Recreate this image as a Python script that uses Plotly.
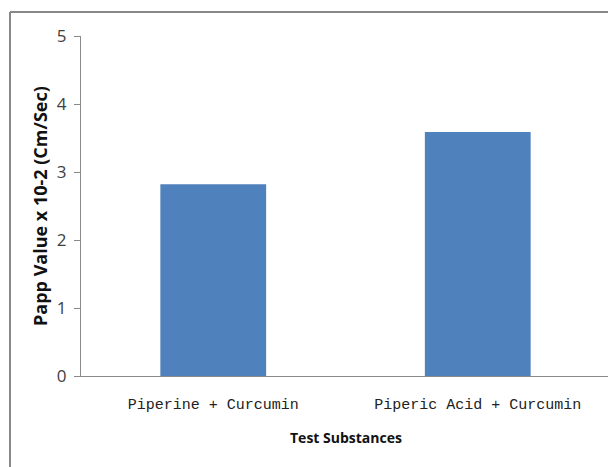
import plotly.graph_objects as go

categories = ["Piperine + Curcumin", "Piperic Acid + Curcumin"]
values = [2.82, 3.59]
y_ticks = [0, 1, 2, 3, 4, 5]

# page body has an 8px default margin, so figure coordinates = screen - 8
OFF = 8
W, H = 616 - OFF, 467 - OFF
L, T = 81 - OFF, 36 - OFF
R = W - (610 - OFF)
B = H - (376 - OFF)
pw, ph = W - L - R, H - T - B


def px_x(sx):
    return ((sx - OFF) - L) / pw


def px_y(sy):
    return ((H - B) - (sy - OFF)) / ph


fig = go.Figure()
fig.add_trace(go.Bar(x=categories, y=values, marker=dict(color="#4F81BD", line=dict(width=0)), width=0.4))

fig.update_layout(
    width=W, height=H,
    margin=dict(l=L, r=R, t=T, b=B),
    paper_bgcolor="white", plot_bgcolor="white",
    showlegend=False,
    xaxis=dict(
        automargin=False,
        showline=True, linecolor="#8A8A8A", linewidth=1,
        ticks="", ticklabelstandoff=14,
        tickfont=dict(family="Liberation Mono, Courier New, monospace", size=15, color="#222"),
        showgrid=False,
    ),
    yaxis=dict(
        automargin=False,
        range=[0, 5], tickvals=y_ticks, showline=True, linecolor="#8A8A8A", linewidth=1,
        ticks="outside", ticklen=6, tickcolor="#8A8A8A", ticklabelstandoff=4,
        tickfont=dict(family="Open Sans, Arial", size=17, color="#404040"),
        showgrid=False, zeroline=False,
    ),
    annotations=[
        dict(text="<b>Test Substances</b>", xref="paper", yref="paper",
             x=px_x(346), y=px_y(437), xanchor="center", yanchor="middle",
             showarrow=False, font=dict(family="Open Sans, Arial", size=14, color="#111")),
        dict(text="<b>Papp Value x 10-2 (Cm/Sec)</b>", xref="paper", yref="paper",
             x=px_x(40), y=px_y(206), xanchor="center", yanchor="middle",
             textangle=-90, showarrow=False, font=dict(family="Open Sans, Arial", size=18, color="#111")),
    ],
    shapes=[
        dict(type="line", xref="paper", yref="paper", x0=px_x(10), x1=px_x(616),
             y0=px_y(12), y1=px_y(12), line=dict(color="#888888", width=2)),
        dict(type="line", xref="paper", yref="paper", x0=px_x(10), x1=px_x(10),
             y0=px_y(12), y1=px_y(467), line=dict(color="#888888", width=2)),
    ],
)

fig.write_html("out.html")
